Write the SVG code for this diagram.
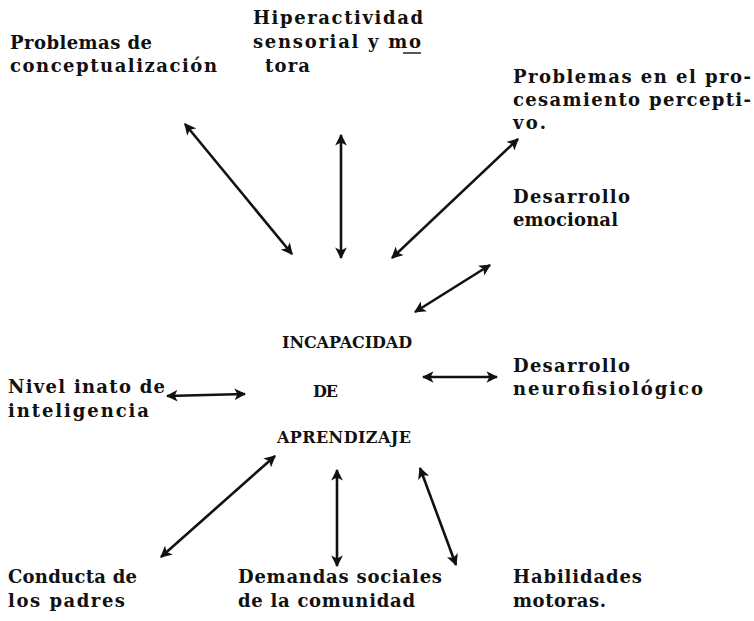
<svg xmlns="http://www.w3.org/2000/svg" width="754" height="621" viewBox="0 0 754 621">
<style>
text{font-family:"DejaVu Serif","Liberation Serif",serif;font-size:18px;font-weight:bold;fill:#111;}
.c{font-size:16px;}
.a{stroke:#111;stroke-width:2.6;fill:none;marker-start:url(#h);marker-end:url(#h);}
</style>
<defs>
<marker id="h" viewBox="0 0 10 10" refX="9" refY="5" markerWidth="4.5" markerHeight="4.5" orient="auto-start-reverse" markerUnits="strokeWidth">
<path d="M0,0 L10,5 L0,10 L2.5,5 Z" fill="#111"/>
</marker>
</defs>
<rect width="754" height="621" fill="#fff"/>
<g id="center">
<text class="c" x="282" y="348" textLength="130" lengthAdjust="spacing">INCAPACIDAD</text>
<text class="c" x="313" y="397" textLength="25" lengthAdjust="spacing">DE</text>
<text class="c" x="277" y="443" textLength="134" lengthAdjust="spacing">APRENDIZAJE</text>
</g>
<g id="n1"><text x="10" y="49" textLength="142" lengthAdjust="spacing">Problemas de</text><text x="10" y="72" textLength="207" lengthAdjust="spacing">conceptualización</text></g>
<g id="n2"><text x="253" y="24" textLength="170" lengthAdjust="spacing">Hiperactividad</text><text x="253" y="48" textLength="168" lengthAdjust="spacing">sensorial y mo</text><line x1="403" y1="53" x2="421" y2="53" stroke="#111" stroke-width="1.4"/><text x="265" y="72" textLength="45" lengthAdjust="spacing">tora</text></g>
<g id="n3"><text x="513" y="83" textLength="238" lengthAdjust="spacing">Problemas en el pro-</text><text x="513" y="106" textLength="238" lengthAdjust="spacing">cesamiento percepti-</text><text x="513" y="129" textLength="33" lengthAdjust="spacing">vo.</text></g>
<g id="n4"><text x="513" y="203" textLength="117" lengthAdjust="spacing">Desarrollo</text><text x="513" y="226" textLength="105" lengthAdjust="spacing">emocional</text></g>
<g id="n5"><text x="513" y="372" textLength="117" lengthAdjust="spacing">Desarrollo</text><text x="513" y="395" textLength="190" lengthAdjust="spacing">neurofisiológico</text></g>
<g id="n6"><text x="8" y="393" textLength="157" lengthAdjust="spacing">Nivel inato de</text><text x="8" y="417" textLength="141" lengthAdjust="spacing">inteligencia</text></g>
<g id="n7"><text x="8" y="583" textLength="129" lengthAdjust="spacing">Conducta de</text><text x="8" y="607" textLength="117" lengthAdjust="spacing">los padres</text></g>
<g id="n8"><text x="238" y="583" textLength="204" lengthAdjust="spacing">Demandas sociales</text><text x="238" y="607" textLength="177" lengthAdjust="spacing">de la comunidad</text></g>
<g id="n9"><text x="513" y="583" textLength="129" lengthAdjust="spacing">Habilidades</text><text x="513" y="607" textLength="93" lengthAdjust="spacing">motoras.</text></g>
<g id="connectors">
<line class="a" x1="185" y1="124" x2="292" y2="254"/>
<line class="a" x1="341" y1="135" x2="341" y2="258"/>
<line class="a" x1="392" y1="258" x2="518" y2="139"/>
<line class="a" x1="415" y1="312" x2="490" y2="265"/>
<line class="a" x1="167" y1="396" x2="245" y2="394"/>
<line class="a" x1="423" y1="377" x2="497" y2="377"/>
<line class="a" x1="275" y1="456" x2="161" y2="557"/>
<line class="a" x1="337" y1="470" x2="337" y2="566"/>
<line class="a" x1="420" y1="468" x2="456" y2="565"/>
</g>
</svg>
